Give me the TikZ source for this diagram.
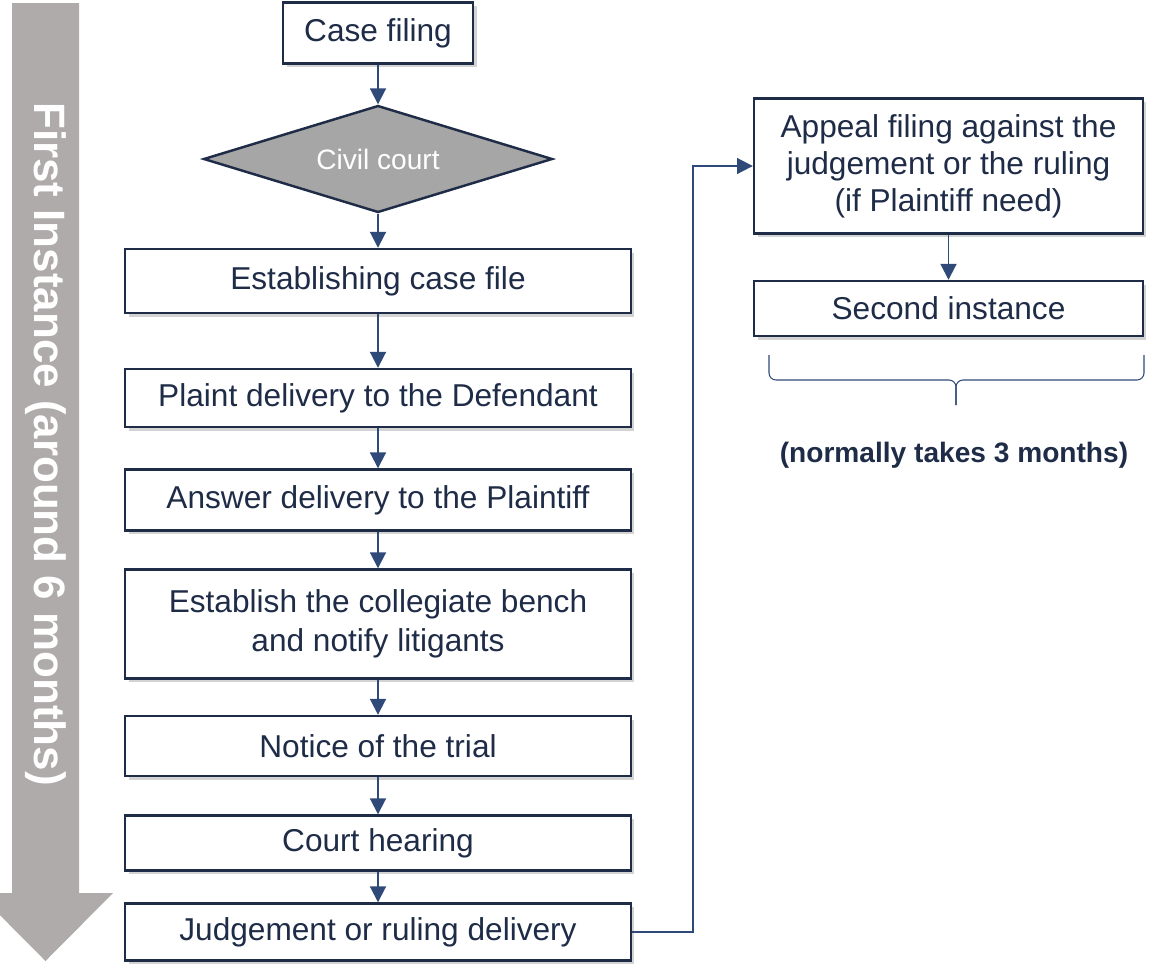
\documentclass[tikz,border=0pt]{standalone}
\usepackage{fontspec}
\setmainfont{Liberation Sans}
\usetikzlibrary{shapes.geometric, arrows.meta, shadows}

\definecolor{navy}{HTML}{1F2C47}
\definecolor{flowblue}{HTML}{2F4A78}
\definecolor{courtgray}{HTML}{A6A6A6}
\definecolor{bandgray}{HTML}{AFABAB}

\tikzset{
    stage/.style={draw=navy, line width=1.4pt, fill=white, text=navy,
        font=\fontsize{18}{22}\selectfont, align=center, inner sep=0pt,
        minimum width=10.12cm,
        drop shadow={shadow xshift=2pt, shadow yshift=-2pt, opacity=0.35, fill=gray}},
    flow/.style={flowblue, line width=1.1pt, -{Triangle[length=9pt,width=9pt]}},
    brace line/.style={flowblue, line width=0.6pt, rounded corners=4pt},
}

\begin{document}
\begin{tikzpicture}[x=0.02cm, y=-0.02cm]
    \useasboundingbox (0,0) rectangle (1152,965);

    % big arrow on the left
    \begin{scope}
        \clip (0,0) rectangle (1152,965);
        \fill[bandgray] (12,3) -- (79,3) -- (79,893) -- (113,893) -- (45.5,961)
            -- (-22,893) -- (12,893) -- cycle;
    \end{scope}
    \node (band) [rotate=-90, text=white, font=\bfseries\fontsize{25}{30}\selectfont]
        at (45.5,444) {First Instance (around 6 months)};

    \node (casefiling) [stage, minimum width=3.8cm, minimum height=1.22cm] at (378,33) {Case filing};
    \node (civil) [diamond, shape aspect=3.26, draw=navy, line width=1.4pt, fill=courtgray,
        text=white, inner sep=0pt, minimum width=6.98cm, minimum height=2.14cm,
        font=\fontsize{16}{19}\selectfont] at (378,159) {Civil court};

    \node (estab) [stage, minimum height=1.28cm] at (378,281) {Establishing case file};
    \node (plaint) [stage, minimum height=1.16cm] at (378,398) {Plaint delivery to the Defendant};
    \node (answer) [stage, minimum height=1.22cm] at (378,500) {Answer delivery to the Plaintiff};
    \node (bench) [stage, minimum height=2.18cm] at (378,624)
        {Establish the collegiate bench\\and notify litigants};
    \node (notice) [stage, minimum height=1.2cm] at (378,746) {Notice of the trial};
    \node (hearing) [stage, minimum height=1.1cm] at (378,843) {Court hearing};
    \node (judgement) [stage, minimum height=1.14cm] at (378,932) {Judgement or ruling delivery};

    \node (appeal) [stage, minimum width=7.78cm, minimum height=2.7cm,
        font=\fontsize{18}{21}\selectfont] at (948.5,166)
        {Appeal filing against the\\judgement or the ruling\\(if Plaintiff need)};
    \node (second) [stage, minimum width=7.78cm, minimum height=1.1cm] at (948.5,308.5) {Second instance};

    \draw[flow] (casefiling) -- (civil);
    \draw[flow] (civil) -- (estab);
    \draw[flow] (estab) -- (plaint);
    \draw[flow] (plaint) -- (answer);
    \draw[flow] (answer) -- (bench);
    \draw[flow] (bench) -- (notice);
    \draw[flow] (notice) -- (hearing);
    \draw[flow] (hearing) -- (judgement);
    \draw[flow] (judgement.east) -- ++(61,0) |- (appeal.west);
    \draw[flow] (appeal) -- (second);

    % brace under the second instance
    \coordinate (bl) at (769,355);
    \coordinate (br) at (1144,355);
    \coordinate (tip) at (956,405);
    \draw[brace line] (bl) -- (bl |- 0,380) -- (tip |- 0,380) -- (tip);
    \draw[brace line] (br) -- (br |- 0,380) -- (tip |- 0,380) -- (tip);

    \node (note) [text=navy, font=\bfseries\fontsize{16}{19}\selectfont] at (954,455)
        {(normally takes 3 months)};
\end{tikzpicture}
\end{document}
